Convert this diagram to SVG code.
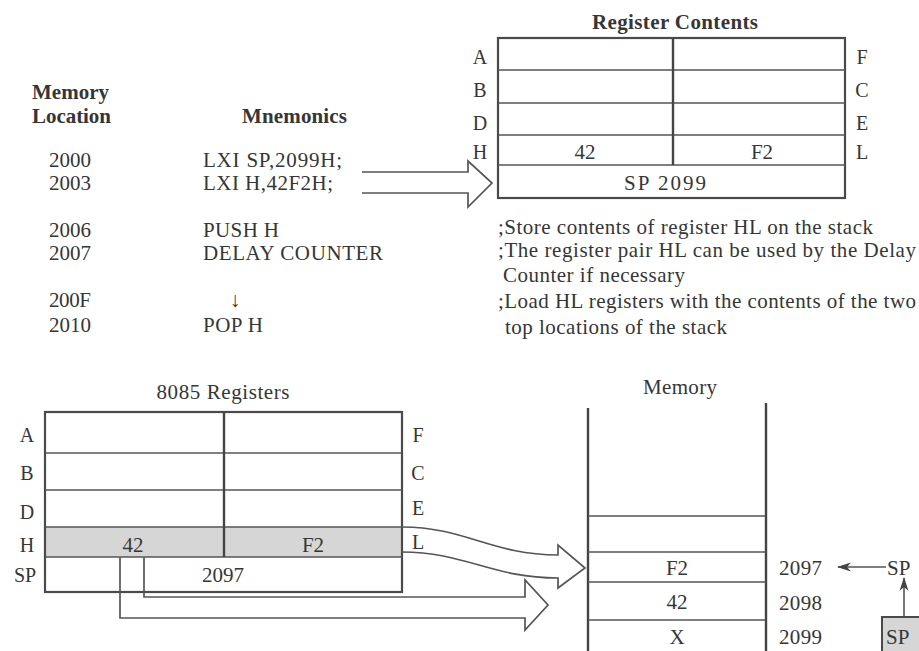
<svg xmlns="http://www.w3.org/2000/svg" width="919" height="651" viewBox="0 0 919 651">
<style>
.t{font-family:"Liberation Serif","Times New Roman",serif;font-size:21px;fill:#363636}
.s{font-size:20px}
.b{font-weight:bold}
.m{text-anchor:middle}
.box{fill:none;stroke:#4a4a4a;stroke-width:2.2}
.ln{stroke:#555;stroke-width:1.6;fill:none}
.div{stroke:#444;stroke-width:2.4}
.conn{fill:none;stroke:#555;stroke-width:1.7;stroke-linejoin:miter}
.shade{fill:#d6d6d6}
</style>
<defs>
<marker id="ah" viewBox="0 0 14 10" refX="13" refY="5" markerWidth="14" markerHeight="10" orient="auto" markerUnits="userSpaceOnUse">
<path d="M0,0.5 L14,5 L0,9.5 L4,5 Z" fill="#444"/>
</marker>
</defs>
<rect width="919" height="651" fill="#fff"/>

<g id="program-listing">
<text class="t b" x="32" y="99" textLength="77">Memory</text>
<text class="t b" x="32" y="123" textLength="79">Location</text>
<text class="t b" x="242" y="123" textLength="105">Mnemonics</text>
<text class="t" x="49" y="167" textLength="42">2000</text>
<text class="t" x="49" y="190" textLength="42">2003</text>
<text class="t" x="49" y="237" textLength="42">2006</text>
<text class="t" x="49" y="260" textLength="42">2007</text>
<text class="t" x="49" y="307" textLength="42">200F</text>
<text class="t" x="49" y="332" textLength="42">2010</text>
<text class="t" x="203" y="167" textLength="139">LXI SP,2099H;</text>
<text class="t" x="203" y="190" textLength="130">LXI H,42F2H;</text>
<text class="t" x="203" y="237" textLength="76">PUSH H</text>
<text class="t" x="203" y="260" textLength="180">DELAY COUNTER</text>
<text class="t m" x="235" y="307">↓</text>
<text class="t" x="203" y="332" textLength="60">POP H</text>
</g>

<g id="comments">
<text class="t" x="498" y="234" textLength="375">;Store contents of register HL on the stack</text>
<text class="t" x="498" y="257" textLength="418">;The register pair HL can be used by the Delay</text>
<text class="t" x="503" y="282" textLength="182">Counter if necessary</text>
<text class="t" x="498" y="308" textLength="418">;Load HL registers with the contents of the two</text>
<text class="t" x="505" y="334" textLength="222">top locations of the stack</text>
</g>

<g id="register-contents">
<text class="t b m" x="675" y="29" textLength="166">Register Contents</text>
<rect class="box" x="498" y="38" width="347" height="160"/>
<line class="ln" x1="498" y1="70" x2="845" y2="70"/>
<line class="ln" x1="498" y1="103" x2="845" y2="103"/>
<line class="ln" x1="498" y1="135" x2="845" y2="135"/>
<line class="ln" x1="498" y1="165" x2="845" y2="165"/>
<line class="div" x1="673" y1="38" x2="673" y2="165"/>
<text class="t s m" x="480" y="64">A</text>
<text class="t s m" x="480" y="97">B</text>
<text class="t s m" x="480" y="130">D</text>
<text class="t s m" x="480" y="159">H</text>
<text class="t s m" x="862" y="64">F</text>
<text class="t s m" x="862" y="97">C</text>
<text class="t s m" x="862" y="130">E</text>
<text class="t s m" x="862" y="159">L</text>
<text class="t m" x="585" y="159">42</text>
<text class="t m" x="762" y="159">F2</text>
<text class="t m" x="665" y="190" textLength="82">SP 2099</text>
</g>

<g id="registers-8085">
<text class="t m" x="223" y="399" textLength="133">8085 Registers</text>
<rect class="shade" x="45" y="527" width="357" height="30"/>
<rect class="box" x="45" y="412" width="357" height="180"/>
<line class="ln" x1="45" y1="453" x2="402" y2="453"/>
<line class="ln" x1="45" y1="490" x2="402" y2="490"/>
<line class="ln" x1="45" y1="527" x2="402" y2="527"/>
<line class="ln" x1="45" y1="557" x2="402" y2="557"/>
<line class="div" x1="224" y1="412" x2="224" y2="557"/>
<text class="t s m" x="27" y="442">A</text>
<text class="t s m" x="27" y="480">B</text>
<text class="t s m" x="27" y="519">D</text>
<text class="t s m" x="27" y="552">H</text>
<text class="t s m" x="25" y="582">SP</text>
<text class="t s m" x="418" y="442">F</text>
<text class="t s m" x="418" y="480">C</text>
<text class="t s m" x="418" y="515">E</text>
<text class="t s m" x="418" y="549">L</text>
<text class="t m" x="133" y="552">42</text>
<text class="t m" x="313" y="552">F2</text>
<text class="t m" x="223" y="582">2097</text>
</g>

<g id="memory">
<text class="t m" x="680" y="394" textLength="74">Memory</text>
<line class="div" x1="588" y1="408" x2="588" y2="651"/>
<line class="div" x1="766" y1="403" x2="766" y2="651"/>
<line class="ln" x1="588" y1="516" x2="766" y2="516"/>
<line class="ln" x1="588" y1="552" x2="766" y2="552"/>
<line class="ln" x1="588" y1="582" x2="766" y2="582"/>
<line class="ln" x1="588" y1="620" x2="766" y2="620"/>
<text class="t m" x="677" y="575">F2</text>
<text class="t m" x="677" y="609">42</text>
<text class="t m" x="677" y="644">X</text>
<text class="t" x="779" y="575" textLength="43">2097</text>
<text class="t" x="779" y="610" textLength="43">2098</text>
<text class="t" x="779" y="644" textLength="43">2099</text>
</g>

<g id="sp-pointer">
<text class="t" x="887" y="575">SP</text>
<rect x="882" y="617" width="50" height="40" fill="#d6d6d6" stroke="#4a4a4a" stroke-width="2"/>
<text class="t" x="886" y="644">SP</text>
</g>

<g id="connectors">
<path class="conn" d="M362,172 H468 V161 L492,183 L468,207 V193 H362"/>
<path class="conn" d="M402,527 C465,527 492,555 558,555 V545 L585,568 L558,588 V578 C492,578 465,552 402,552"/>
<path class="conn" d="M144,557 V597 H525 V580 L548,605 L525,630 V618 H120 V557"/>
<line class="ln" x1="886" y1="567" x2="838" y2="567" marker-end="url(#ah)"/>
<line class="ln" x1="904" y1="616" x2="904" y2="578" marker-end="url(#ah)"/>
</g>
</svg>
